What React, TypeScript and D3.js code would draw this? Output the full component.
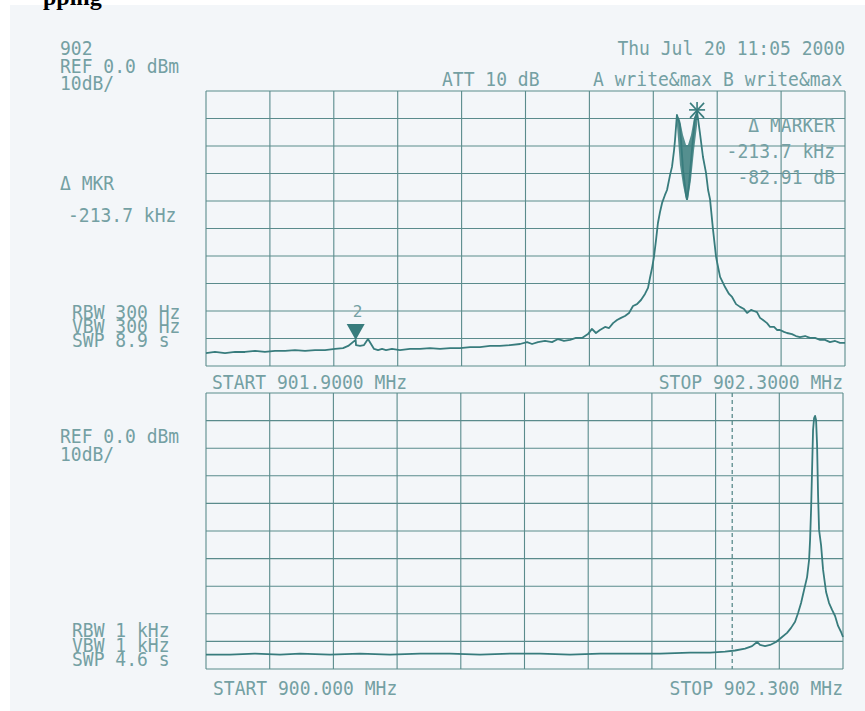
import React from "react";
import * as d3 from "d3";

// Upper trace: offset from 901.9000 MHz in kHz, level in dBm
const topTrace: [number, number][] = [
  [0, -95.3], [5.6, -94.9], [11.9, -95.3], [18.2, -94.9], [24.4, -94.9], [30.7, -94.5],
  [36.9, -94.9], [43.2, -94.5], [49.5, -94.5], [55.7, -94.2], [62.0, -94.5], [68.2, -94.2],
  [74.5, -94.2], [80.8, -93.8], [85.8, -93.5], [89.0, -92.7], [93.7, -90.5], [93.9, -92.4],
  [96.4, -92.7], [98.9, -92.4], [101.4, -90.2], [103.3, -92.0], [105.2, -93.8], [107.7, -94.2],
  [110.2, -93.8], [112.7, -94.2], [116.4, -93.8], [121.4, -94.2], [127.7, -93.8], [134.0, -93.8],
  [140.2, -93.5], [146.5, -93.8], [152.8, -93.5], [159.0, -93.5], [165.3, -93.1], [171.5, -93.1],
  [177.8, -92.7], [184.0, -92.7], [190.3, -92.4], [196.6, -92.0], [201.0, -91.3], [204.1, -92.0],
  [207.8, -91.3], [212.2, -90.9], [216.6, -91.3], [220.4, -90.2], [224.1, -90.9], [227.9, -90.5],
  [231.6, -89.8], [235.4, -89.8], [239.1, -88.4], [241.6, -86.5], [244.1, -88.0], [246.6, -86.9],
  [249.8, -85.8], [252.3, -86.2], [254.8, -84.4], [257.3, -83.3], [259.8, -82.5], [262.3, -81.8],
  [264.8, -80.7], [267.3, -78.2], [269.8, -77.5], [272.3, -76.0], [274.8, -73.8], [276.7, -71.6],
  [277.9, -68.0], [279.2, -64.4], [280.4, -60.4], [281.7, -54.2], [282.9, -48.0], [284.2, -44.0],
  [285.5, -40.7], [287.3, -37.8], [288.6, -36.0], [290.5, -30.5], [291.7, -27.6], [293.0, -21.5],
  [293.6, -17.8], [294.8, -8.7], [296.7, -12.4], [298.6, -28.7], [300.5, -37.8], [301.1, -39.3],
  [302.4, -33.8], [304.2, -21.5], [306.1, -9.8], [307.4, -7.6], [309.2, -15.3], [311.1, -24.0],
  [313.0, -29.8], [314.3, -36.0], [315.5, -39.3], [317.4, -50.5], [319.3, -60.4], [321.8, -67.6],
  [324.9, -71.3], [327.4, -73.8], [329.3, -74.9], [331.8, -77.5], [334.3, -78.5], [336.8, -79.3],
  [338.7, -80.7], [341.2, -79.6], [343.0, -80.0], [344.9, -80.4], [346.8, -82.5], [348.7, -83.3],
  [351.2, -84.4], [353.1, -85.8], [355.6, -85.8], [357.4, -86.9], [359.3, -86.9], [361.8, -87.6],
  [363.7, -88.0], [366.8, -88.4], [369.3, -89.1], [371.8, -89.5], [375.0, -89.1], [378.1, -89.8],
  [381.2, -89.8], [384.4, -90.5], [387.5, -90.5], [390.6, -91.3], [393.8, -90.9], [396.9, -91.6],
  [400, -91.6],
];

// Max-hold band between the two upper peaks: kHz, upper dBm, lower dBm
const topBand: [number, number, number][] = [
  [294.8, -8.7, -12.4], [296.7, -10.5, -26.9], [298.6, -16.0, -34.2], [300.5, -19.6, -39.6],
  [301.7, -19.6, -39.6], [303.6, -16.0, -32.4], [305.5, -9.8, -21.5], [307.4, -7.6, -12.4],
];

// Lower trace: offset from 900.000 MHz in kHz, level in dBm
const bottomTrace: [number, number][] = [
  [0, -94.8], [86.7, -94.8], [176.9, -94.4], [267.2, -94.8], [339.4, -94.4], [447.8, -94.8],
  [556.1, -94.4], [664.4, -94.8], [772.8, -94.4], [881.1, -94.4], [989.4, -94.8], [1097.8, -94.4],
  [1206.1, -94.4], [1314.4, -94.8], [1422.8, -94.4], [1531.1, -94.4], [1639.4, -94.4], [1747.7, -94.1],
  [1820.0, -94.1], [1874.1, -93.7], [1910.2, -93.3], [1946.3, -92.6], [1971.6, -91.7], [1989.7, -90.2],
  [2000.5, -91.3], [2018.6, -91.7], [2036.6, -91.3], [2058.3, -90.2], [2080.0, -88.4], [2098.0, -86.9],
  [2112.5, -85.1], [2126.9, -82.9], [2137.8, -79.7], [2148.6, -76.1], [2159.4, -71.4], [2170.3, -66.7],
  [2177.5, -60.5], [2181.1, -53.3], [2184.7, -42.4], [2188.3, -27.9], [2191.9, -13.4], [2195.6, -9.1],
  [2199.2, -8.3], [2202.8, -9.8], [2206.4, -18.8], [2210.0, -37.0], [2213.6, -49.6], [2220.8, -55.1],
  [2228.1, -64.1], [2238.9, -72.1], [2249.7, -76.1], [2260.6, -78.6], [2271.4, -80.8], [2282.2, -84.4],
  [2293.0, -86.6], [2300, -88.4],
];

const peakMarker: [number, number] = [307.4, -7.6];
const refMarker: [number, number] = [93.7, -90.5];
const zoomLineKHz = 1900;

const topLeftLabels = ["902", "REF 0.0 dBm", "10dB/"];
const topRightLabels = ["Thu Jul 20 11:05 2000"];
const headerMid = "ATT 10 dB";
const headerRight = "A write&max B write&max";
const mkrLabels = ["\u0394 MKR", "-213.7 kHz"];
const markerBox = ["\u0394 MARKER", "-213.7 kHz", "-82.91 dB"];
const topBw = ["RBW 300 Hz", "VBW 300 Hz", "SWP 8.9 s"];
const topStart = "START 901.9000 MHz";
const topStop = "STOP 902.3000 MHz";
const botLeftLabels = ["REF 0.0 dBm", "10dB/"];
const botBw = ["RBW 1 kHz", "VBW 1 kHz", "SWP 4.6 s"];
const botStart = "START 900.000 MHz";
const botStop = "STOP 902.300 MHz";

const TEXT = "#74a0a3";
const GRID = "#5a8b8c";
const TRACE = "#387c7d";

function T({ x, y, s, anchor = "start" }: { x: number; y: number; s: string; anchor?: string }) {
  return (
    <text
      transform={`translate(${x},${y}) scale(1,1.12)`}
      x={0}
      y={0}
      textAnchor={anchor as any}
      fontFamily="DejaVu Sans Mono"
      fontSize={18}
      fill={TEXT}
    >
      {s}
    </text>
  );
}

function Panel({ x, y, data, band, xStep, xMax }: any) {
  const xs = d3.range(0, xMax + 0.001, xStep);
  const ys = d3.range(0, -100.001, -10);
  const line = d3.line<[number, number]>().x((d) => x(d[0])).y((d) => y(d[1]));
  const area = d3
    .area<[number, number, number]>()
    .x((d) => x(d[0]))
    .y0((d) => y(d[1]))
    .y1((d) => y(d[2]));
  return (
    <g>
      {xs.map((v: number, i: number) => (
        <line key={"v" + i} x1={x(v)} x2={x(v)} y1={y(0)} y2={y(-100)} stroke={GRID} strokeWidth={1.1} />
      ))}
      {ys.map((v: number, i: number) => (
        <line key={"h" + i} x1={x(0)} x2={x(xMax)} y1={y(v)} y2={y(v)} stroke={GRID} strokeWidth={1.1} />
      ))}
      {band && <path d={area(band) || ""} fill={TRACE} opacity={0.85} />}
      <path d={line(data) || ""} fill="none" stroke={TRACE} strokeWidth={1.8} strokeLinejoin="round" />
    </g>
  );
}

export default function App() {
  const tx = d3.scaleLinear().domain([0, 400]).range([206, 845]);
  const ty = d3.scaleLinear().domain([0, -100]).range([91, 366]);
  const bx = d3.scaleLinear().domain([0, 2300]).range([206, 843]);
  const by = d3.scaleLinear().domain([0, -100]).range([393, 669]);

  const px = tx(peakMarker[0]);
  const py = ty(peakMarker[1]) + 2;
  const mx = tx(refMarker[0]);
  const my = ty(refMarker[1]);

  return (
    <svg width={865} height={711} style={{ position: "absolute", left: 0, top: 0 }}>
      <rect x={0} y={0} width={865} height={711} fill="#ffffff" />
      <rect x={10} y={5} width={855} height={706} fill="#f3f6f9" />
      <text x={43} y={5} fontFamily="Liberation Serif" fontWeight="bold" fontSize={24} fill="#000">
        pping
      </text>

      {topLeftLabels.map((s, i) => (
        <T key={"tl" + i} x={60} y={55 + i * 17.5} s={s} />
      ))}
      {topRightLabels.map((s, i) => (
        <T key={"tr" + i} x={845} y={55} s={s} anchor="end" />
      ))}
      <T x={442} y={86} s={headerMid} />
      <T x={593} y={86} s={headerRight} />
      {mkrLabels.map((s, i) => (
        <T key={"mk" + i} x={i === 0 ? 60 : 68} y={190 + i * 32} s={s} />
      ))}
      {topBw.map((s, i) => (
        <T key={"tb" + i} x={72} y={319 + i * 14} s={s} />
      ))}

      <Panel x={tx} y={ty} data={topTrace} band={topBand} xStep={40} xMax={400} />

      {markerBox.map((s, i) => (
        <T key={"mb" + i} x={835} y={132 + i * 26} s={s} anchor="end" />
      ))}

      {/* peak marker asterisk */}
      <g stroke={TRACE} strokeWidth={1.6}>
        <line x1={px - 8} x2={px + 8} y1={py - 4} y2={py - 4} />
        <line x1={px} x2={px} y1={py - 12} y2={py + 6} />
        <line x1={px - 7} x2={px + 7} y1={py - 11} y2={py + 4} />
        <line x1={px + 7} x2={px - 7} y1={py - 11} y2={py + 4} />
      </g>
      {/* reference marker 2 */}
      <path d={`M${mx - 9},${my - 16} L${mx + 9},${my - 16} L${mx},${my} Z`} fill={TRACE} />
      <text x={mx + 2} y={my - 23} fontFamily="DejaVu Sans Mono" fontSize={16} fill={TEXT} textAnchor="middle">
        2
      </text>

      <T x={212} y={389} s={topStart} />
      <T x={843} y={389} s={topStop} anchor="end" />

      {botLeftLabels.map((s, i) => (
        <T key={"bl" + i} x={60} y={443 + i * 18} s={s} />
      ))}
      {botBw.map((s, i) => (
        <T key={"bb" + i} x={72} y={637 + i * 14.5} s={s} />
      ))}

      <Panel x={bx} y={by} data={bottomTrace} xStep={230} xMax={2300} />
      <line
        x1={bx(zoomLineKHz)}
        x2={bx(zoomLineKHz)}
        y1={by(0)}
        y2={by(-100)}
        stroke={GRID}
        strokeWidth={1.3}
        strokeDasharray="4,3"
      />

      <T x={213} y={695} s={botStart} />
      <T x={843} y={695} s={botStop} anchor="end" />
    </svg>
  );
}
